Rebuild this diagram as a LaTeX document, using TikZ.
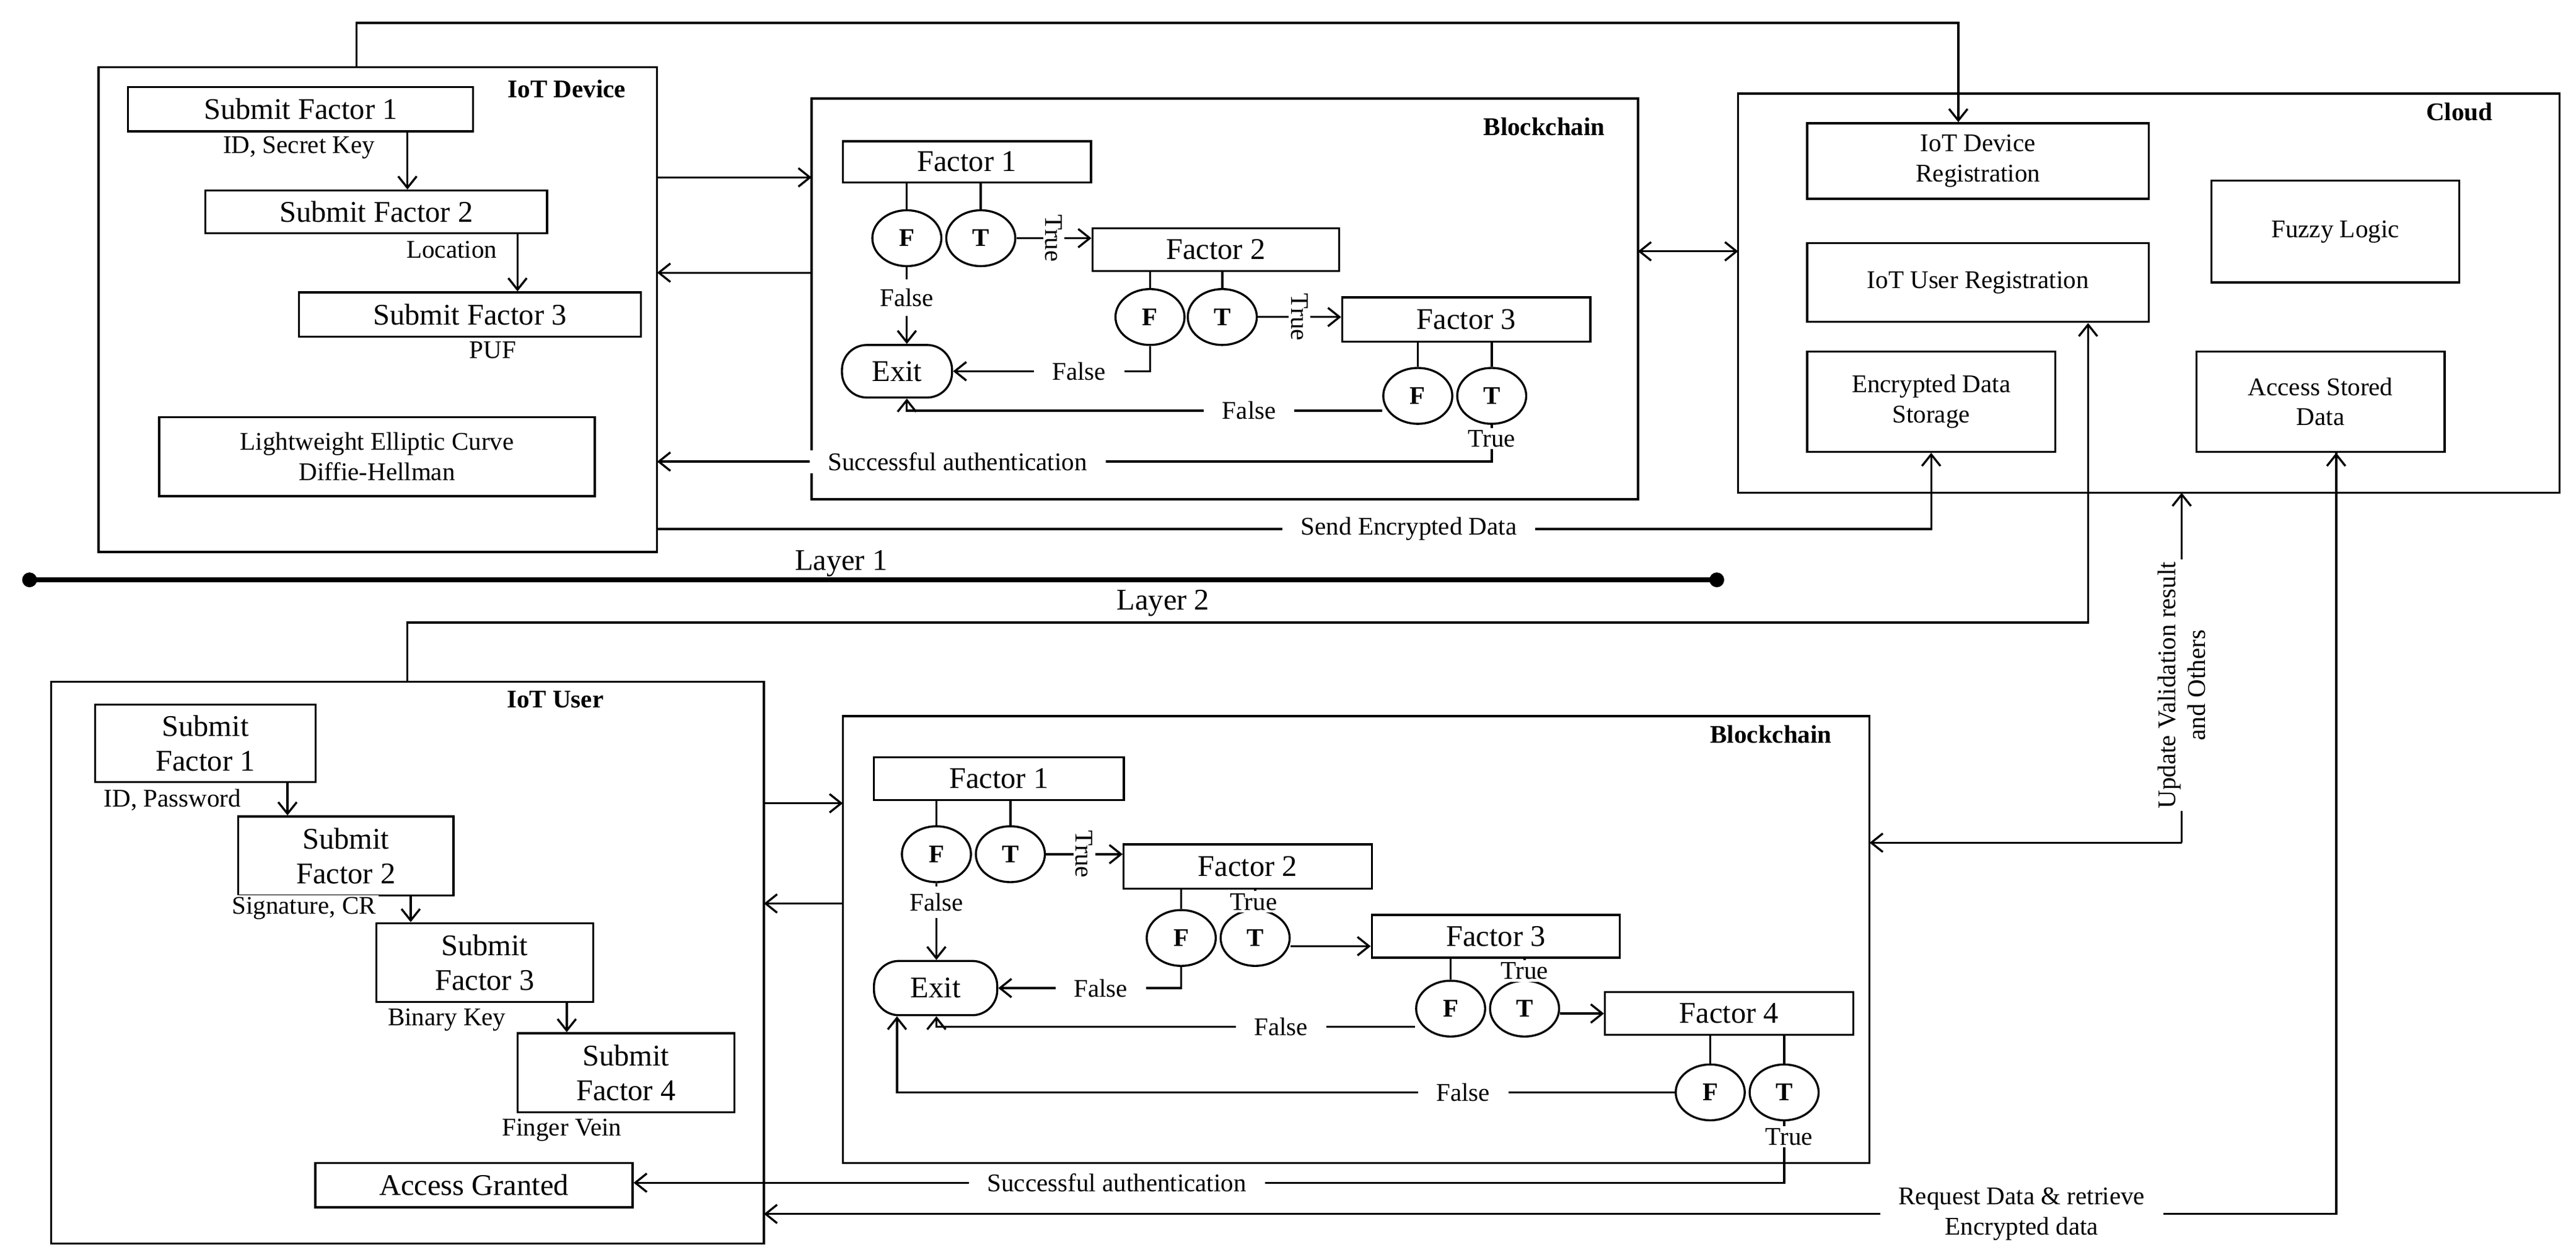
\documentclass[tikz,border=0pt]{standalone}
\usepackage{fontspec}
\setmainfont{Liberation Serif}
\usepackage{tikz}
\usetikzlibrary{arrows.meta,positioning,calc,shapes.geometric}

\tikzset{
  box/.style={draw,line width=0.9pt,inner sep=0pt,font=\fontsize{13}{15}\selectfont,align=center},
  sbox/.style={draw,line width=0.9pt,inner sep=0pt,font=\fontsize{11}{13}\selectfont,align=center},
  frame/.style={draw,line width=0.9pt},
  circ/.style={draw,ellipse,line width=0.9pt,minimum width=1.05cm,minimum height=0.85cm,inner sep=0pt,font=\bfseries\fontsize{11}{13}\selectfont},
  lbl/.style={font=\fontsize{11}{13}\selectfont,fill=white,inner sep=1pt,align=center},
  gap/.style={lbl,inner xsep=8pt},
  ttl/.style={font=\bfseries\fontsize{11}{13}\selectfont},
  con/.style={line width=0.9pt},
  arr/.style={line width=0.9pt,-{Straight Barb[length=5pt,width=8pt]}}
}

\begin{document}
\begin{tikzpicture}[x=0.025cm,y=-0.025cm]
  \useasboundingbox (0,0) rectangle (1568,767);

  % ---- layer 1 : IoT device
  \draw[frame] (60,41) rectangle (400,336);
  \node[ttl] at (345,54) {IoT Device};
  \node[box,minimum width=5.25cm,minimum height=0.675cm] (dsf1) at (183,66.5) {Submit Factor 1};
  \node[box,minimum width=5.2cm,minimum height=0.65cm] (dsf2) at (229,129) {Submit Factor 2};
  \node[box,minimum width=5.2cm,minimum height=0.675cm] (dsf3) at (286,191.5) {Submit Factor 3};
  \node[sbox,minimum width=6.625cm,minimum height=1.2cm] (ecdh) at (229.5,278) {Lightweight Elliptic Curve\\Diffie-Hellman};
  \node[lbl] at (182,90) {ID, Secret Key};
  \node[lbl] at (275,152) {Location};
  \node[lbl] at (300,213) {PUF};
  \draw[arr] (dsf1.south -| 248,0) -- (dsf2.north -| 248,0);
  \draw[arr] (dsf2.south -| 315,0) -- (dsf3.north -| 315,0);

  % ---- layer 1 : blockchain
  \draw[frame] (494,60) rectangle (997,304);
  \node[ttl] at (940,77) {Blockchain};
  \node[box,minimum width=3.775cm,minimum height=0.625cm] (af1) at (588.5,98.5) {Factor 1};
  \node[box,minimum width=3.75cm,minimum height=0.65cm] (af2) at (740,152) {Factor 2};
  \node[box,minimum width=3.775cm,minimum height=0.675cm] (af3) at (892.5,194.5) {Factor 3};
  \node[box,minimum width=1.675cm,minimum height=0.8cm,rounded corners=0.38cm] (aex) at (546,226) {Exit};
  \node[circ] (aF1) at (552,145) {F};
  \node[circ] (aT1) at (597,145) {T};
  \node[circ] (aF2) at (700,193) {F};
  \node[circ] (aT2) at (744,193) {T};
  \node[circ] (aF3) at (863,241) {F};
  \node[circ] (aT3) at (908,241) {T};
  \draw[con] (aF1.north) -- (aF1.north |- af1.south);
  \draw[con] (aT1.north) -- (aT1.north |- af1.south);
  \draw[con] (aF2.north) -- (aF2.north |- af2.south);
  \draw[con] (aT2.north) -- (aT2.north |- af2.south);
  \draw[con] (aF3.north) -- (aF3.north |- af3.south);
  \draw[con] (aT3.north) -- (aT3.north |- af3.south);
  \draw[arr] (aT1.east) -- (aT1.east -| af2.west) node[lbl,midway,rotate=-90] {True};
  \draw[arr] (aT2.east) -- (aT2.east -| af3.west) node[lbl,midway,rotate=-90] {True};
  \draw[arr] (aF1.south) -- (aex.north -| aF1.south) node[lbl,pos=0.4,inner ysep=4pt] {False};
  \draw[arr] (aF2.south) |- (aex.east) node[gap,pos=0.68] {False};
  \draw[arr] (aF3.west |- 0,250) -| (aex.south -| aF1.south) node[gap,pos=0.14] {False};
  \coordinate (aok) at (aT3.south |- 0,281);
  \draw[arr] (aT3.south) -- (aok) -- (aok -| 400,0) node[gap,pos=0.64] {Successful authentication};
  \node[lbl] at (908,267) {True};
  \draw[arr] (400,108) -- (494,108);
  \draw[arr] (494,166) -- (400,166);

  % ---- cloud
  \draw[frame] (1058,57) rectangle (1558,300);
  \node[ttl] at (1497,68) {Cloud};
  \node[sbox,minimum width=5.2cm,minimum height=1.15cm] (dreg) at (1204,98) {IoT Device\\Registration};
  \node[sbox,minimum width=5.2cm,minimum height=1.2cm] (ureg) at (1204,172) {IoT User Registration};
  \node[sbox,minimum width=3.775cm,minimum height=1.55cm] (fuzzy) at (1421.5,141) {Fuzzy Logic};
  \node[sbox,minimum width=3.775cm,minimum height=1.525cm] (eds) at (1175.5,244.5) {Encrypted Data\\Storage};
  \node[sbox,minimum width=3.775cm,minimum height=1.525cm] (asd) at (1412.5,244.5) {Access Stored\\Data};
  \draw[line width=0.9pt,{Straight Barb[length=5pt,width=8pt]}-{Straight Barb[length=5pt,width=8pt]}] (997,153) -- (1058,153);
  \draw[arr] (217,41) -- (217,14) -| (dreg.north -| 1192,0);
  \draw[arr] (400,322) -| (eds.south) node[gap,pos=0.295] {Send Encrypted Data};

  % ---- layer separator
  \draw[line width=2.2pt] (18,353) -- (1045,353);
  \fill (18,353) circle (4.5);
  \fill (1045,353) circle (4.5);
  \node[font=\fontsize{13}{15}\selectfont] at (512,343) {Layer 1};
  \node[font=\fontsize{13}{15}\selectfont] at (708,367) {Layer 2};

  % ---- layer 2 : IoT user
  \draw[frame] (31,415) rectangle (465,757);
  \node[ttl] at (338,426) {IoT User};
  \node[box,minimum width=3.35cm,minimum height=1.175cm] (usf1) at (125,452.5) {Submit\\Factor 1};
  \node[box,minimum width=3.275cm,minimum height=1.2cm] (usf2) at (210.5,521) {Submit\\Factor 2};
  \node[box,minimum width=3.3cm,minimum height=1.2cm] (usf3) at (295,586) {Submit\\Factor 3};
  \node[box,minimum width=3.3cm,minimum height=1.2cm] (usf4) at (381,653) {Submit\\Factor 4};
  \node[box,minimum width=4.825cm,minimum height=0.675cm] (grant) at (288.5,721.5) {Access Granted};
  \node[lbl] at (105,487) {ID, Password};
  \node[lbl] at (185,553) {Signature, CR};
  \node[lbl] at (272,621) {Binary Key};
  \node[lbl] at (342,688) {Finger Vein};
  \draw[arr] (usf1.south -| 175,0) -- (usf2.north -| 175,0);
  \draw[arr] (usf2.south -| 250,0) -- (usf3.north -| 250,0);
  \draw[arr] (usf3.south -| 345,0) -- (usf4.north -| 345,0);

  % ---- layer 2 : blockchain
  \draw[frame] (513,436) rectangle (1138,708);
  \node[ttl] at (1078,447) {Blockchain};
  \node[box,minimum width=3.8cm,minimum height=0.65cm] (bf1) at (608,474) {Factor 1};
  \node[box,minimum width=3.775cm,minimum height=0.675cm] (bf2) at (759.5,527.5) {Factor 2};
  \node[box,minimum width=3.775cm,minimum height=0.65cm] (bf3) at (910.5,570) {Factor 3};
  \node[box,minimum width=3.775cm,minimum height=0.65cm] (bf4) at (1052.5,617) {Factor 4};
  \node[box,minimum width=1.875cm,minimum height=0.825cm,rounded corners=0.38cm] (bex) at (569.5,601.5) {Exit};
  \node[circ] (bF1) at (570,520) {F};
  \node[circ] (bT1) at (615,520) {T};
  \node[circ] (bF2) at (719,571) {F};
  \node[circ] (bT2) at (764,571) {T};
  \node[circ] (bF3) at (883,614) {F};
  \node[circ] (bT3) at (928,614) {T};
  \node[circ] (bF4) at (1041,665) {F};
  \node[circ] (bT4) at (1086,665) {T};
  \draw[con] (bF1.north) -- (bF1.north |- bf1.south);
  \draw[con] (bT1.north) -- (bT1.north |- bf1.south);
  \draw[con] (bF2.north) -- (bF2.north |- bf2.south);
  \draw[con] (bT2.north) -- (bT2.north |- bf2.south);
  \draw[con] (bF3.north) -- (bF3.north |- bf3.south);
  \draw[con] (bT3.north) -- (bT3.north |- bf3.south);
  \draw[con] (bF4.north) -- (bF4.north |- bf4.south);
  \draw[con] (bT4.north) -- (bT4.north |- bf4.south);
  \node[lbl] at (763,549) {True};
  \node[lbl] at (928,591) {True};
  \draw[arr] (bT1.east) -- (bT1.east -| bf2.west) node[lbl,midway,rotate=-90] {True};
  \draw[arr] (bT2.east |- 0,576) -- (bT2.east |- 0,576 -| bf3.west);
  \draw[arr] (bT3.east |- 0,617) -- (bf4.west);
  \draw[arr] (bF1.south) -- (bex.north -| bF1.south) node[lbl,pos=0.25,inner ysep=3pt] {False};
  \draw[arr] (bF2.south) |- (bex.east) node[gap,pos=0.72] {False};
  \draw[arr] (bF3.west |- 0,625) -| (bex.south -| bF1.south) node[gap,pos=0.14] {False};
  \draw[arr] (bF4.west) -| (bex.south -| 546,0) node[gap,pos=0.136] {False};
  \coordinate (bok) at (bT4.south |- 0,720);
  \draw[arr] (bT4.south) -- (bok) -- (bok -| grant.east) node[gap,pos=0.58] {Successful authentication};
  \node[lbl] at (1089,692) {True};
  \draw[arr] (465,489) -- (513,489);
  \draw[arr] (513,550) -- (465,550);

  % ---- layer 2 to cloud
  \draw[arr] (248,415) -- (248,379) -| (ureg.south -| 1271,0);
  \coordinate (upd) at (1328,513);
  \draw[arr] (upd) -- (1138,513);
  \draw[arr] (upd) -- (1328,300) node[lbl,pos=0.45,rotate=90,inner ysep=3pt] {Update Validation result\\and Others};
  \draw[arr] (asd.south -| 1422,0) |- (465,739) node[gap,pos=0.6] {Request Data \& retrieve\\Encrypted data};
  \draw[arr] (1422,739) -- (asd.south -| 1422,0);
\end{tikzpicture}
\end{document}
